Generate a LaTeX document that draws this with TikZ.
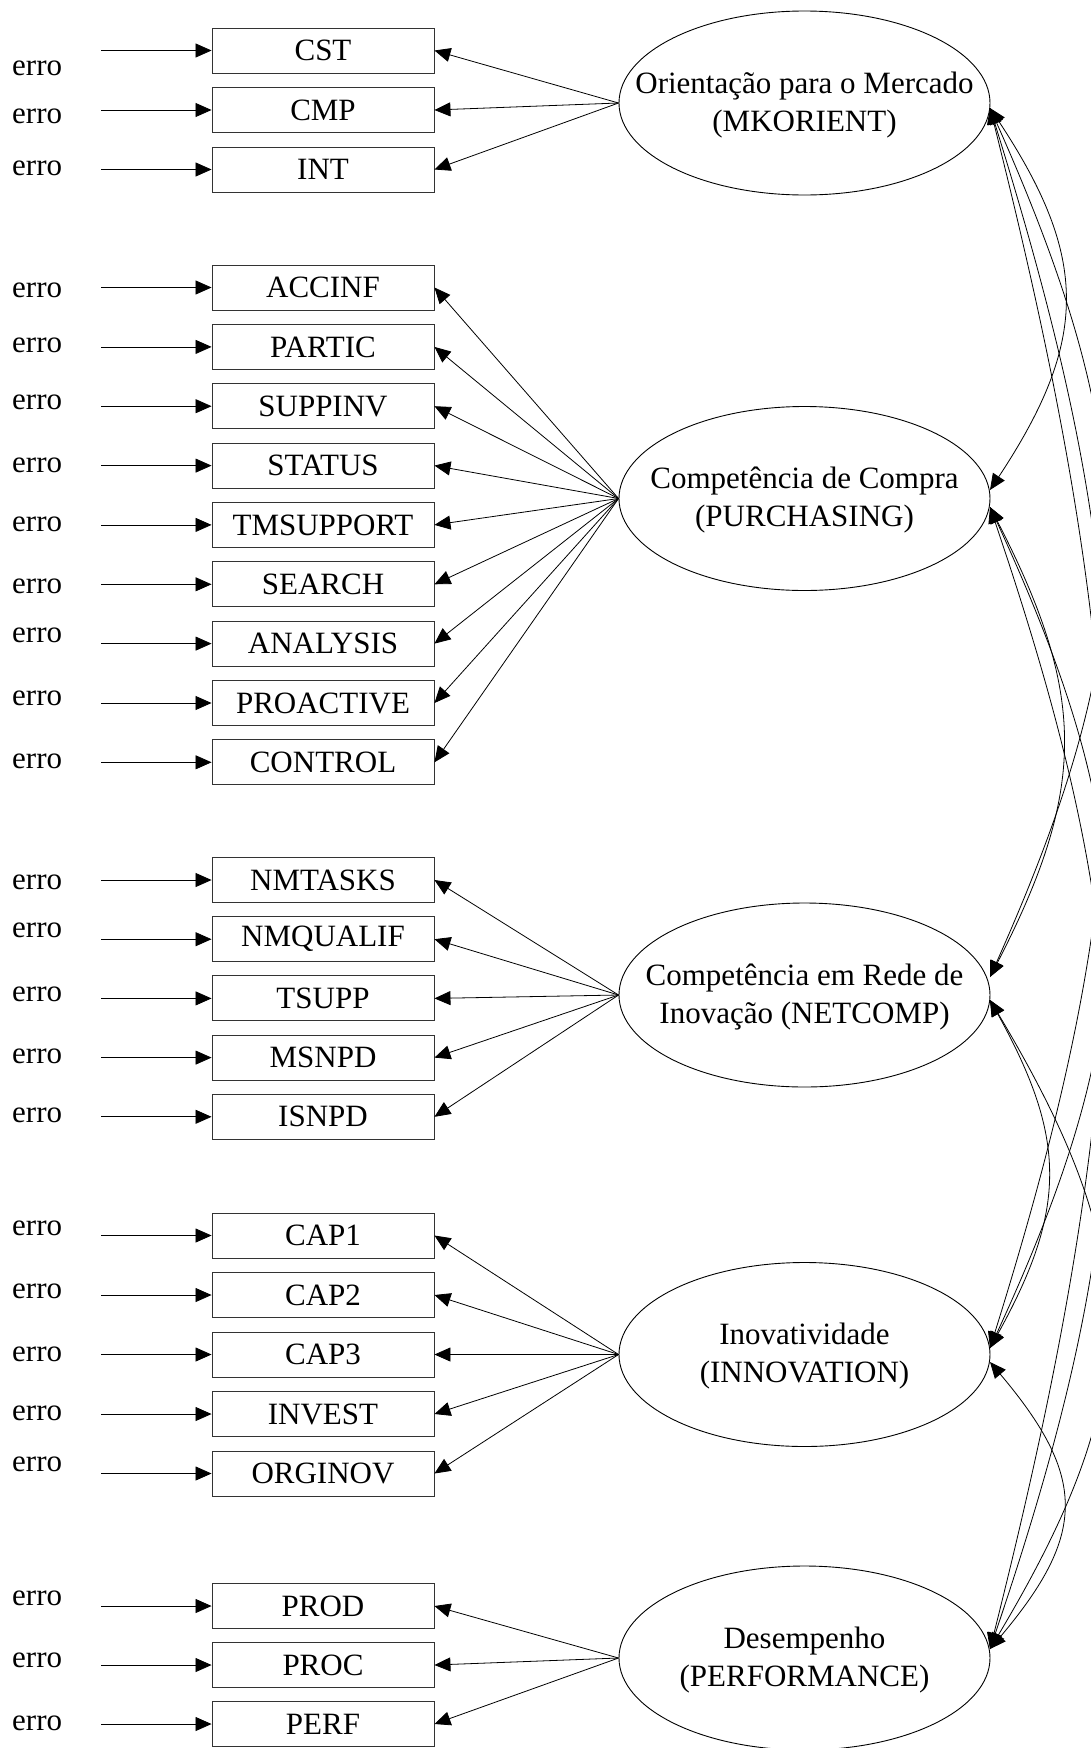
\documentclass[tikz,border=0pt]{standalone}
\usepackage{fontspec}
\setmainfont{Liberation Serif}
\usetikzlibrary{arrows.meta,shapes.geometric}

\tikzset{
  txt/.style={font=\fontsize{31}{38}\selectfont},
  obs/.style={txt, draw=black!80, line width=0.9pt, minimum width=222pt, minimum height=45pt, inner sep=0pt},
  latent/.style={draw, ellipse, line width=0.9pt, minimum width=371pt, minimum height=184pt, inner sep=0pt},
  lbl/.style={txt, align=center, inner sep=0pt},
  errlbl/.style={txt, inner sep=0pt, anchor=west, yshift=-2.5pt},
  head/.style={-{Triangle[length=16pt,width=14pt]}, line width=0.8pt},
  cov/.style={{Triangle[length=16pt,width=14pt]}-{Triangle[length=16pt,width=14pt]}, line width=0.8pt},
}

\begin{document}
\begin{tikzpicture}[x=1pt,y=-1pt]
\useasboundingbox (0,0) rectangle (1091,1748);
\clip (0,0) rectangle (1091,1748);

% latent variables
\node[latent] (mko) at (804.5,103) {};
\node[lbl] (mkoT) at ([yshift=-2pt]mko.center) {Orientação para o Mercado\\(MKORIENT)};
\node[latent] (pur) at (804.5,498.5) {};
\node[lbl] (purT) at ([yshift=-2pt]pur.center) {Competência de Compra\\(PURCHASING)};
\node[latent] (net) at (804.5,995) {};
\node[lbl] (netT) at ([yshift=-2pt]net.center) {Competência em Rede de\\Inovação (NETCOMP)};
\node[latent] (inv) at (804.5,1354.5) {};
\node[lbl] (invT) at ([yshift=-2pt]inv.center) {Inovatividade\\(INNOVATION)};
\node[latent] (prf) at (804.5,1658) {};
\node[lbl] (prfT) at ([yshift=-2pt]prf.center) {Desempenho\\(PERFORMANCE)};

% observed indicators, each with its error term
\foreach \nm/\lab/\y/\ey/\lat in {
  cst/CST/50.5/65.7/mko, cmp/CMP/110/113.7/mko, int/INT/169.5/166/mko,
  accinf/ACCINF/287.5/287.5/pur, partic/PARTIC/346.9/343/pur,
  suppinv/SUPPINV/406.2/400/pur, status/STATUS/465.6/462.5/pur,
  tmsupport/TMSUPPORT/524.9/521.5/pur, search/SEARCH/584.3/584/pur,
  analysis/ANALYSIS/643.6/633/pur, proactive/PROACTIVE/703/695.4/pur,
  control/CONTROL/762.3/759/pur,
  nmtasks/NMTASKS/880/880/net, nmqualif/NMQUALIF/939.2/928/net,
  tsupp/TSUPP/998.4/992/net, msnpd/MSNPD/1057.6/1054/net,
  isnpd/ISNPD/1116.8/1113/net,
  capa/CAP1/1235.5/1226/inv, capb/CAP2/1295/1289/inv,
  capc/CAP3/1354.5/1352/inv, invest/INVEST/1414/1411/inv,
  orginov/ORGINOV/1473.5/1462/inv,
  prod/PROD/1606/1596/prf, proc/PROC/1665/1658/prf, perf/PERF/1724/1721/prf}
{
  \node[obs] (\nm) at (323,\y) {\lab};
  \node[errlbl] (e\nm) at (12,\ey) {erro};
  \coordinate (s\nm) at (101,\y);
  \draw[head] (s\nm) -- (\nm.west);
  \draw[head] (\lat.west) -- (\nm.east);
}

% ends of the covariance arcs on the right of each latent
\coordinate (mkoR) at (990,108);
\coordinate (purR1) at (990,490);
\coordinate (purR2) at (990,507);
\coordinate (netR1) at (990,977);
\coordinate (netR2) at (990,1000);
\coordinate (invR1) at (990,1348);
\coordinate (invR2) at (990,1362);
\coordinate (prfR) at (990,1649);

% covariances between neighbouring latents
\draw[cov] (mkoR) .. controls +(99,150) and +(99,-150) .. (purR1);
\draw[cov] (purR2) .. controls +(97,188) and +(97,-188) .. (netR1);
\draw[cov] (netR2) .. controls +(77,139) and +(77,-139) .. (invR1);
\draw[cov] (invR2) .. controls +(97,115) and +(97,-115) .. (prfR);
% covariances between distant latents
\draw[cov] (mkoR) .. controls +(155,348) and +(155,-348) .. (netR1);
\draw[cov] (mkoR) .. controls +(155,496) and +(155,-496) .. (invR1);
\draw[cov] (mkoR) .. controls +(155,616) and +(155,-616) .. (prfR);
\draw[cov] (purR2) .. controls +(155,336) and +(155,-336) .. (invR1);
\draw[cov] (purR2) .. controls +(155,457) and +(155,-457) .. (prfR);
\draw[cov] (netR2) .. controls +(155,260) and +(155,-260) .. (prfR);
\end{tikzpicture}
\end{document}
